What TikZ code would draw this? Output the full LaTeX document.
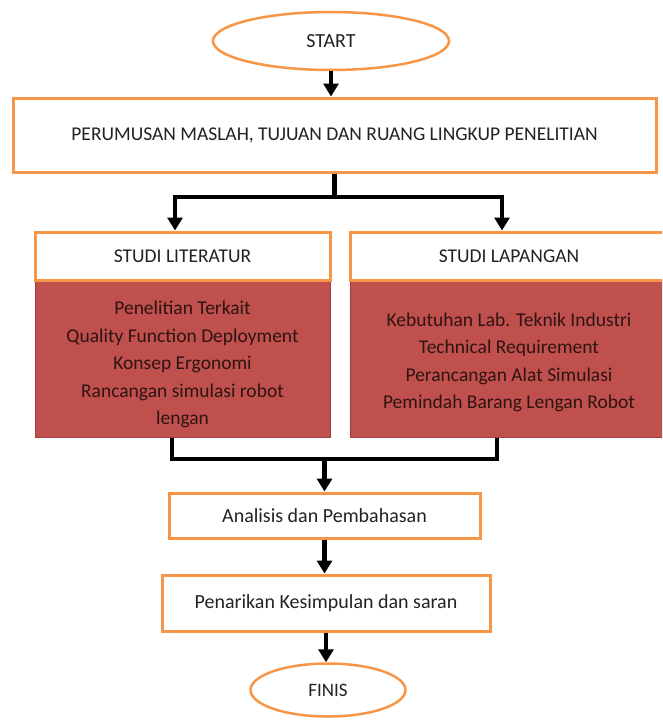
\documentclass[tikz,border=0pt]{standalone}
\usepackage{fontspec}
\setmainfont{Carlito}
\usetikzlibrary{shapes.geometric,arrows.meta}
\definecolor{orng}{HTML}{F79646}
\definecolor{redf}{HTML}{C0504D}
\definecolor{redd}{HTML}{A0403D}
\definecolor{redtxt}{HTML}{2E1412}
\definecolor{txt}{HTML}{222222}
\begin{document}
\begin{tikzpicture}[x=1pt,y=1pt,
  ell/.style={ellipse, draw=orng, line width=2.5pt, fill=white, inner sep=0pt, text=txt},
  obox/.style={rectangle, draw=orng, line width=3pt, fill=white, inner sep=0pt, align=center, text=txt},
  rbody/.style={rectangle, fill=redf, draw=redd, line width=1pt, inner sep=0pt, align=center,
    text=redtxt, font=\fontsize{19.5}{27.5}\selectfont},
  conn/.style={line width=4.5pt, black},
  arr/.style={conn, -{Triangle[length=13pt,width=15pt]}}
]
\useasboundingbox (0,0) rectangle (662,-720);
\clip (0,0) rectangle (662,-720);
\fill[white] (0,0) rectangle (662,-720);

\node[ell, minimum width=236pt, minimum height=58pt, font=\fontsize{20}{22}\selectfont] (start) at (331,-41) {START};
\node[obox, minimum width=643pt, minimum height=74pt, font=\fontsize{19.5}{22}\selectfont] (perum) at (334.5,-135) {PERUMUSAN MASLAH, TUJUAN DAN RUANG LINGKUP PENELITIAN};

\node[rbody, minimum width=295pt, minimum height=157pt] (litB) at (182.5,-358.5) {\raisebox{-6pt}[\height][\depth]{\parbox{290pt}{\centering Penelitian Terkait\\Quality Function Deployment\\Konsep Ergonomi\\Rancangan simulasi robot\\lengan}}};
\node[obox, minimum width=295pt, minimum height=48pt, font=\fontsize{19.5}{22}\selectfont] (litH) at (182.5,-256) {STUDI LITERATUR};

\node[rbody, minimum width=318pt, minimum height=157pt] (lapB) at (509,-358.5) {\raisebox{-4pt}[\height][\depth]{\parbox{310pt}{\centering Kebutuhan Lab. Teknik Industri\\Technical Requirement\\Perancangan Alat Simulasi\\Pemindah Barang Lengan Robot}}};
\node[obox, minimum width=318pt, minimum height=48pt, font=\fontsize{19.5}{22}\selectfont] (lapH) at (509,-256) {STUDI LAPANGAN};

\node[obox, minimum width=311pt, minimum height=45pt, font=\fontsize{20}{22}\selectfont] (anal) at (324.5,-515.5) {Analisis dan Pembahasan};
\node[obox, minimum width=328pt, minimum height=56pt, font=\fontsize{20}{22}\selectfont] (tarik) at (326,-603) {Penarikan Kesimpulan dan saran};
\node[ell, minimum width=155pt, minimum height=53pt, font=\fontsize{19}{21}\selectfont] (finis) at (328,-690) {FINIS};

\coordinate (sl) at (175,-197);
\coordinate (sr) at (502,-197);
\coordinate (jl) at (172,-459);
\coordinate (jr) at (497,-459);

\draw[arr] (start.south) -- (start.south |- perum.north);
\draw[arr] (perum.south) |- (sl) -- (litH.north -| sl);
\draw[arr] (perum.south) |- (sr) -- (lapH.north -| sr);
\draw[conn] (litB.south -| jl) |- (jr) -- (lapB.south -| jr);
\draw[arr] (anal.north |- jl) -- (anal.north);
\draw[arr] (anal.south) -- (anal.south |- tarik.north);
\draw[arr] (tarik.south) -- (tarik.south |- finis.north);
\end{tikzpicture}
\end{document}
